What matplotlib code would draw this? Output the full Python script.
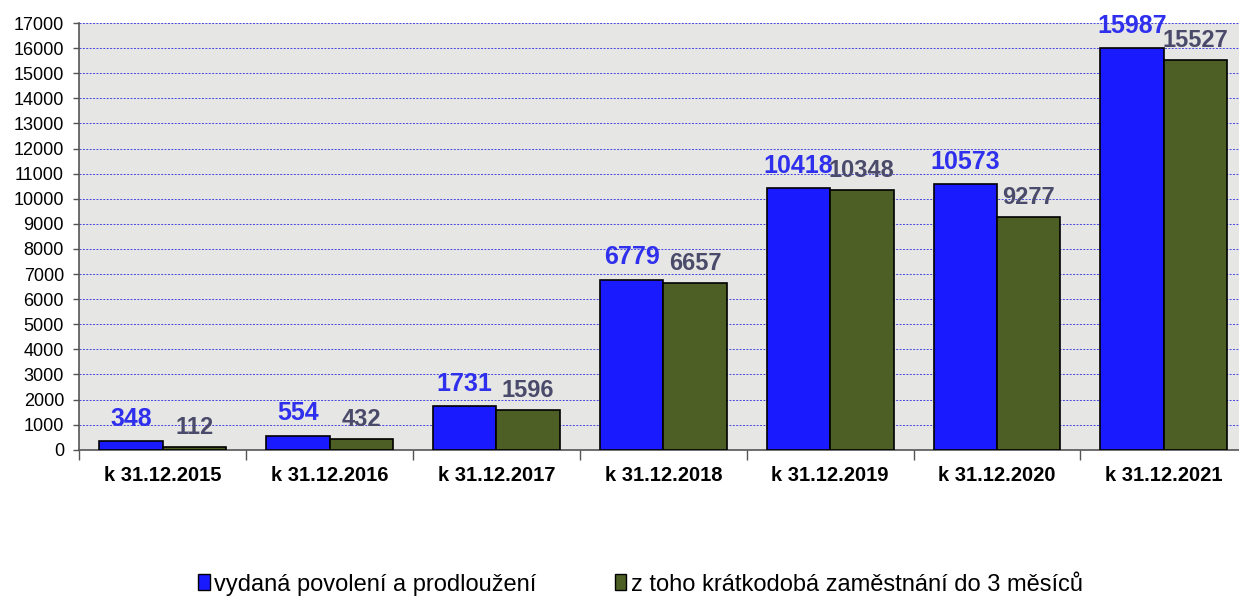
import matplotlib
matplotlib.use('Agg')
import numpy as np
import matplotlib.pyplot as plt
from matplotlib.patches import Patch

categories = ['k 31.12.2015', 'k 31.12.2016', 'k 31.12.2017', 'k 31.12.2018',
              'k 31.12.2019', 'k 31.12.2020', 'k 31.12.2021']
issued = [348, 554, 1731, 6779, 10418, 10573, 15987]
short_term = [112, 432, 1596, 6657, 10348, 9277, 15527]
series_names = ['vydaná povolení a prodloužení', 'z toho krátkodobá zaměstnání do 3 měsíců']

plt.rcParams['font.family'] = ['Liberation Sans', 'DejaVu Sans']

fig = plt.figure(figsize=(12.39, 6.07), dpi=100)
ax = fig.add_axes([0.064, 0.259, 0.9427, 0.703])
ax.set_facecolor('#e6e6e4')

x = np.arange(len(categories))
w = 0.38
ax.bar(x - w / 2, issued, w, color='#1a1aff', edgecolor='black', linewidth=1.2, zorder=3)
ax.bar(x + w / 2, short_term, w, color='#4d5f24', edgecolor='black', linewidth=1.2, zorder=3)

for xi, v in zip(x, issued):
    ax.text(xi - w / 2, v + 420, str(v), ha='center', va='bottom', fontsize=18,
            fontweight='bold', color='#2f2fee', zorder=4)
for xi, v in zip(x, short_term):
    ax.text(xi + w / 2, v + 320, str(v), ha='center', va='bottom', fontsize=17,
            fontweight='bold', color='#4a4a6a', zorder=4)

ax.set_xlim(-0.5, len(categories) - 0.5)
ax.set_ylim(0, 17000)
ax.set_yticks(np.arange(0, 17001, 1000))
ax.tick_params(axis='y', labelsize=13, length=4, width=1, color='#555555', direction='out', pad=7)
ax.set_xticks(x)
ax.set_xticklabels(categories, fontsize=14.5, fontweight='bold')
ax.tick_params(axis='x', length=0, pad=12)
ax.set_xticks(np.arange(-0.5, len(categories), 1.0), minor=True)
ax.tick_params(axis='x', which='minor', length=7, width=1, color='#555555', direction='out')

ax.grid(axis='y', color='#4646e0', linestyle=(0, (2, 1.5)), linewidth=0.7, zorder=1)
ax.set_axisbelow(True)
for s in ['top', 'right']:
    ax.spines[s].set_visible(False)
ax.spines['left'].set_color('#555555')
ax.spines['bottom'].set_color('#555555')
ax.spines['left'].set_linewidth(1.2)
ax.spines['bottom'].set_linewidth(1.2)

handles = [Patch(facecolor='#1a1aff', edgecolor='black', label=series_names[0]),
           Patch(facecolor='#4d5f24', edgecolor='black', label=series_names[1])]
fig.legend(handles=handles, loc='center', bbox_to_anchor=(0.517, 0.037), ncol=2, frameon=False,
           fontsize=17, handlelength=0.5, handleheight=0.65, handletextpad=0.2, columnspacing=3.3)

fig.savefig('out.png', dpi=100)
plt.close(fig)
